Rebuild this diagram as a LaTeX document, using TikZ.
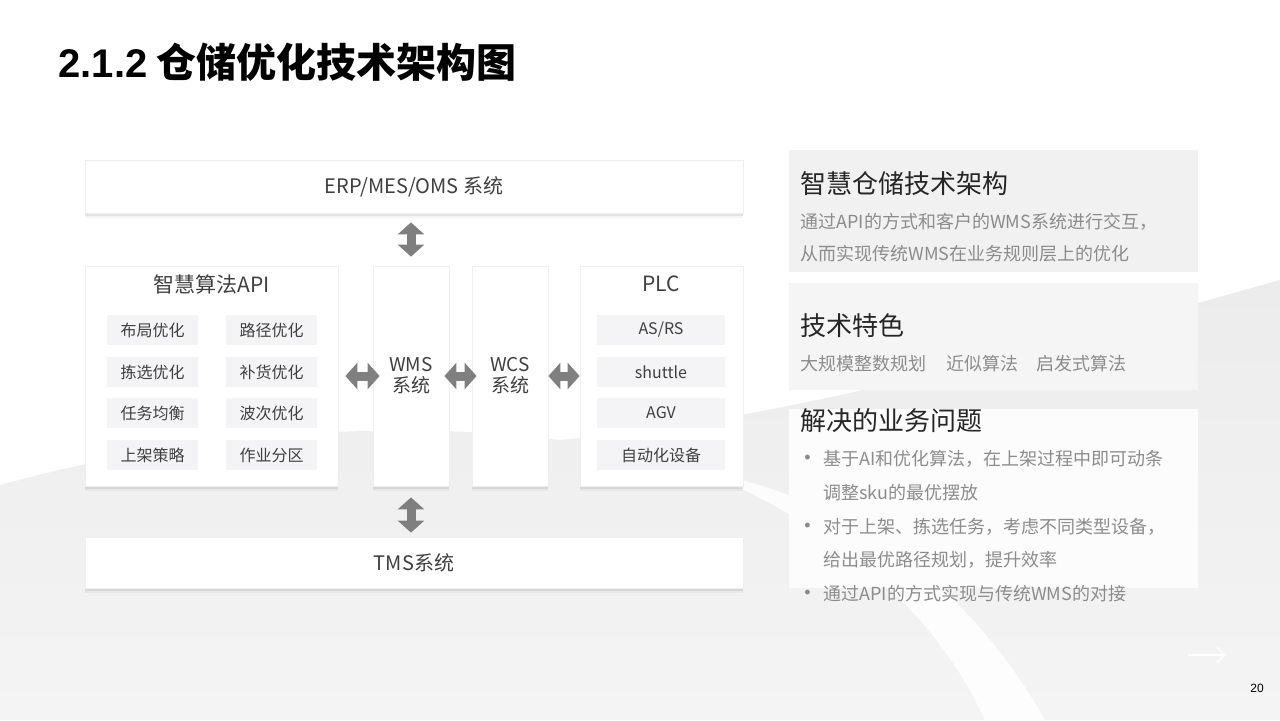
\documentclass[tikz,border=0pt]{standalone}
\usepackage{fontspec}
\setmainfont{Noto Sans CJK SC}
\newfontfamily\lsans{Liberation Sans}
\usetikzlibrary{arrows.meta,shadows}
\definecolor{txt}{HTML}{3F3F3F}
\definecolor{subf}{HTML}{F4F3F6}
\definecolor{arr}{HTML}{7F7F7F}
\definecolor{grayt}{HTML}{8C8C8C}
\definecolor{dark}{HTML}{262626}
\definecolor{bgA}{HTML}{ECECEC}
\definecolor{bgB}{HTML}{F4F4F4}
\definecolor{pan1}{HTML}{F1F1F1}
\definecolor{pan2}{HTML}{F5F5F5}
\definecolor{pan3}{HTML}{FCFCFC}
\definecolor{edge}{HTML}{EEEEEE}
\tikzset{
  mainbox/.style={fill=white, draw=edge, line width=0.4pt, inner sep=0pt,
    general shadow={shadow yshift=-0.6pt, opacity=0.10, fill=black},
    general shadow={shadow yshift=-1.4pt, opacity=0.07, fill=black},
    general shadow={shadow yshift=-2.4pt, opacity=0.04, fill=black}},
  subbox/.style={fill=subf, draw=none, inner sep=0pt, minimum height=15pt,
    text=txt, font=\fontsize{8pt}{9.6pt}\selectfont},
  lbl/.style={text=txt, inner sep=0pt, font=\fontsize{10pt}{12pt}\selectfont},
  dbl/.style={draw=arr, line width=4.5pt,
    {Triangle[length=6pt,width=13pt]}-{Triangle[length=6pt,width=13pt]}},
  ptitle/.style={anchor=west, inner sep=0pt, text=dark, font=\fontsize{13pt}{15pt}\selectfont},
  ptext/.style={anchor=west, inner sep=0pt, text=grayt, font=\fontsize{9pt}{11pt}\selectfont},
}
\begin{document}
\begin{tikzpicture}[x=0.5pt,y=-0.5pt]
\useasboundingbox (0,0) rectangle (1280,720);
\fill[white] (0,0) rectangle (1280,720);
% background swooshes
\shade[top color=bgA, bottom color=bgB]
  (0,485) .. controls (200,430) and (400,420) .. (560,440)
  .. controls (800,420) and (1100,330) .. (1280,280)
  -- (1280,720) -- (0,720) -- cycle;
\fill[white, opacity=0.85]
  (700,470) .. controls (820,520) and (930,600) .. (985,720)
  -- (1045,720) .. controls (965,580) and (850,500) .. (700,470) -- cycle;

% title
\node[anchor=west, inner sep=0pt, text=black] (title) at (58,62)
  {\fontsize{20pt}{24pt}\selectfont{\lsans\bfseries 2.1.2} \bfseries 仓储优化技术架构图};

% main boxes
\node[mainbox, minimum width=329pt, minimum height=26.5pt] (erp) at (414,186.5) {};
\node[lbl] at (erp.center) {ERP/MES/OMS 系统};
\node[mainbox, minimum width=126.5pt, minimum height=110pt] (api) at (211.5,376) {};
\node[mainbox, minimum width=38pt, minimum height=110pt] (wms) at (411,376) {};
\node[mainbox, minimum width=38pt, minimum height=110pt] (wcs) at (510,376) {};
\node[mainbox, minimum width=81.5pt, minimum height=110pt] (plc) at (661.5,376) {};
\node[mainbox, minimum width=329pt, minimum height=25.5pt] (tms) at (414,562.5) {};

\node[lbl, font=\fontsize{10.5pt}{12pt}\selectfont] (apit) at (212,284) {智慧算法API};
\node[lbl, font=\fontsize{10.5pt}{12pt}\selectfont] (plct) at (661,284) {PLC};
\node[lbl, align=center, font=\fontsize{9.5pt}{10.5pt}\selectfont] (wmst) at (411,376) {WMS\\系统};
\node[lbl, align=center, font=\fontsize{9.5pt}{10.5pt}\selectfont] (wcst) at (510,376) {WCS\\系统};
\node[lbl] (tmst) at (tms.center) {TMS系统};

% API sub boxes
\node[subbox, minimum width=45.5pt] (a1) at (152.5,330) {布局优化};
\node[subbox, minimum width=45.5pt] (a2) at (271.5,330) {路径优化};
\node[subbox, minimum width=45.5pt] (a3) at (152.5,372) {拣选优化};
\node[subbox, minimum width=45.5pt] (a4) at (271.5,372) {补货优化};
\node[subbox, minimum width=45.5pt] (a5) at (152.5,413) {任务均衡};
\node[subbox, minimum width=45.5pt] (a6) at (271.5,413) {波次优化};
\node[subbox, minimum width=45.5pt] (a7) at (152.5,455) {上架策略};
\node[subbox, minimum width=45.5pt] (a8) at (271.5,455) {作业分区};
% PLC sub boxes
\node[subbox, minimum width=64pt] (p1) at (661,330) {AS/RS};
\node[subbox, minimum width=64pt] (p2) at (661,372) {shuttle};
\node[subbox, minimum width=64pt] (p3) at (661,413) {AGV};
\node[subbox, minimum width=64pt] (p4) at (661,455) {自动化设备};

% connectors
\draw[dbl, shorten <=4.5pt, shorten >=4.5pt] (wms.north |- erp.south) -- (wms.north);
\draw[dbl, shorten <=5.5pt, shorten >=2pt] (wms.south) -- (wms.south |- tms.north);
\draw[dbl, shorten <=3.5pt, shorten >=-3.5pt] (api.east) -- (wms.west);
\draw[dbl, shorten <=-2.5pt, shorten >=-2.5pt] (wms.east) -- (wcs.west);
\draw[dbl] (wcs.east) -- (plc.west);

% right panels
\fill[pan1] (789,150) rectangle (1198,272);
\fill[pan2] (789,283) rectangle (1198,390);
\fill[pan3] (789,409) rectangle (1198,588);

\node[ptitle] (r1t) at (800,184) {智慧仓储技术架构};
\node[ptext] (r1a) at (800,222) {通过API的方式和客户的WMS系统进行交互，};
\node[ptext] (r1b) at (800,254) {从而实现传统WMS在业务规则层上的优化};

\node[ptitle] (r2t) at (800,326) {技术特色};
\node[ptext] (r2a) at (800,364) {大规模整数规划\hspace{1.1em}近似算法\hspace{1em}启发式算法};

\node[ptitle] (r3t) at (800,421) {解决的业务问题};
\node[ptext, font=\lsans\fontsize{9pt}{11pt}\selectfont] (b1) at (804,459) {•};
\node[ptext] (l1) at (823,459) {基于AI和优化算法，在上架过程中即可动条};
\node[ptext] (l2) at (823,493) {调整sku的最优摆放};
\node[ptext, font=\lsans\fontsize{9pt}{11pt}\selectfont] (b2) at (804,527) {•};
\node[ptext] (l3) at (823,527) {对于上架、拣选任务，考虑不同类型设备，};
\node[ptext] (l4) at (823,560) {给出最优路径规划，提升效率};
\node[ptext, font=\lsans\fontsize{9pt}{11pt}\selectfont] (b3) at (804,594) {•};
\node[ptext] (l5) at (823,594) {通过API的方式实现与传统WMS的对接};

% footer
\coordinate (na1) at (1188,655);
\coordinate (na2) at (1225,655);
\draw[white, line width=0.7pt, -{Straight Barb[length=3.5pt,width=8pt]}] (na1) -- (na2);
\node[inner sep=0pt, font=\lsans\fontsize{6pt}{7pt}\selectfont] (pg) at (1257,688) {20};
\end{tikzpicture}
\end{document}
